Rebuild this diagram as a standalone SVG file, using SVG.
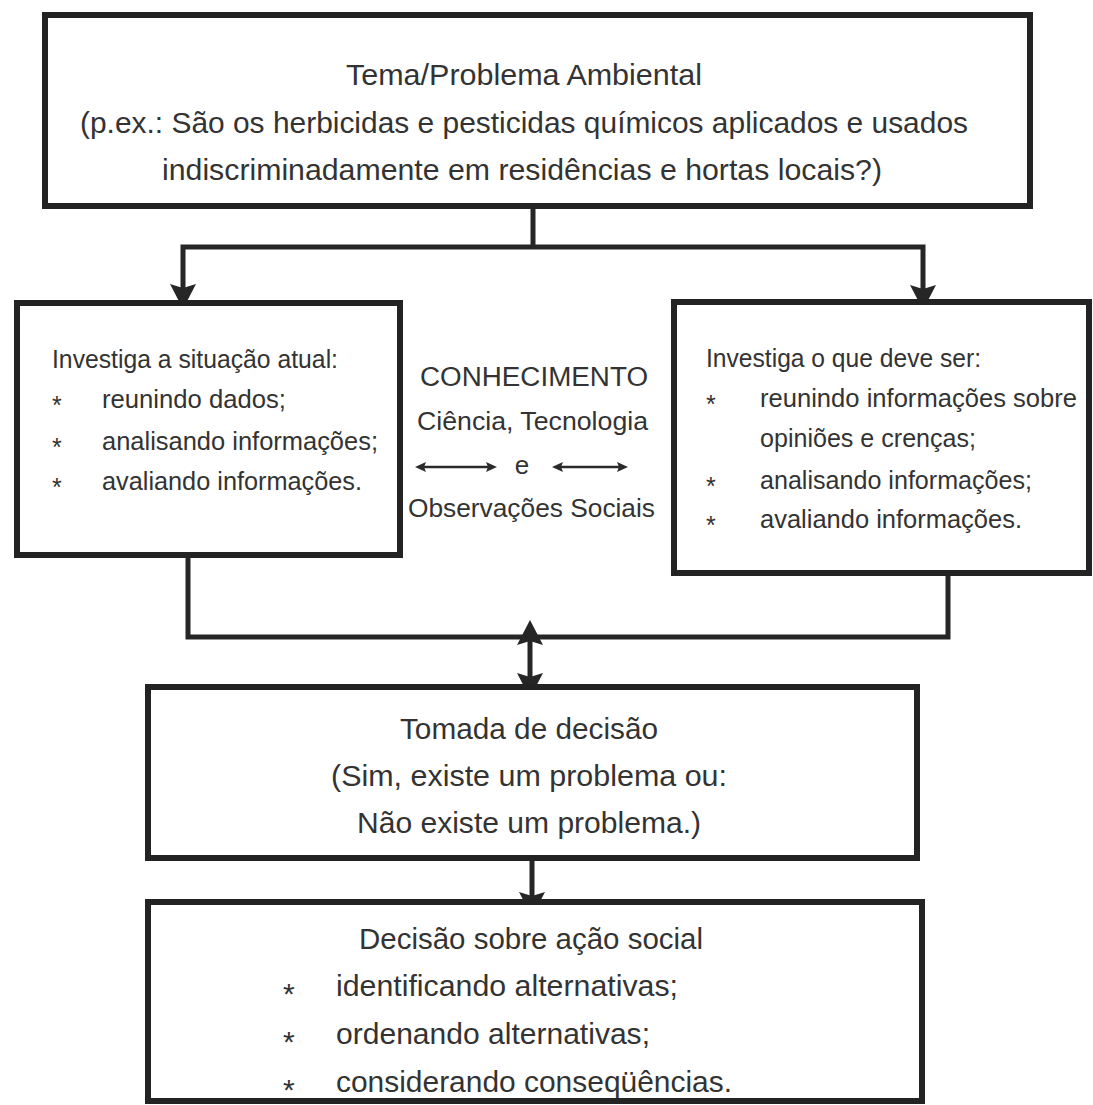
<svg xmlns="http://www.w3.org/2000/svg" width="1093" height="1105" viewBox="0 0 1093 1105">
<style>
.box{fill:#ffffff;stroke:#232323;stroke-width:6}
.con{fill:none;stroke:#262626;stroke-width:5}
.thin{fill:none;stroke:#2a2a2a;stroke-width:2.5}
text{font-family:"Liberation Sans",Arial,sans-serif;fill:#333333}
.t30{font-size:30px}
.t25{font-size:25px}
.t26{font-size:26px}
.t27{font-size:27px}
</style>
<defs>
<marker id="ah" markerUnits="userSpaceOnUse" viewBox="0 0 25 26" markerWidth="25" markerHeight="26" refX="13" refY="13" orient="auto-start-reverse">
<path d="M0,0 L25,13 L0,26 L4,13 z" fill="#262626"/>
</marker>
<marker id="sm" markerUnits="userSpaceOnUse" viewBox="0 0 11 10" markerWidth="11" markerHeight="10" refX="6" refY="5" orient="auto-start-reverse">
<path d="M0,0 L11,5 L0,10 L2,5 z" fill="#2a2a2a"/>
</marker>
</defs>
<rect width="1093" height="1105" fill="#ffffff"/>

<g id="connectors">
<path class="con" d="M533,206 V247"/>
<path class="con" d="M183,297 V247 H923 V298" marker-start="url(#ah)" marker-end="url(#ah)"/>
<path class="con" d="M188,555 V637 H948 V573"/>
<path class="con" d="M530,632 V686" marker-start="url(#ah)" marker-end="url(#ah)"/>
<path class="con" d="M532,858 V905" marker-end="url(#ah)"/>
<path class="thin" d="M420,467 H492" marker-start="url(#sm)" marker-end="url(#sm)"/>
<path class="thin" d="M557,467 H623" marker-start="url(#sm)" marker-end="url(#sm)"/>
</g>

<g id="node-tema">
<rect class="box" x="45" y="15" width="985" height="191"/>
<text class="t30" x="346" y="85" textLength="356" lengthAdjust="spacingAndGlyphs">Tema/Problema Ambiental</text>
<text class="t30" x="80" y="133" textLength="888" lengthAdjust="spacingAndGlyphs">(p.ex.: São os herbicidas e pesticidas químicos aplicados e usados</text>
<text class="t30" x="162" y="180" textLength="720" lengthAdjust="spacingAndGlyphs">indiscriminadamente em residências e hortas locais?)</text>
</g>

<g id="node-situacao">
<rect class="box" x="17" y="303" width="383" height="252"/>
<text class="t25" x="52" y="368" textLength="286" lengthAdjust="spacingAndGlyphs">Investiga a situação atual:</text>
<text class="t25" x="52" y="414">*</text>
<text class="t25" x="102" y="408" textLength="184" lengthAdjust="spacingAndGlyphs">reunindo dados;</text>
<text class="t25" x="52" y="456">*</text>
<text class="t25" x="102" y="450" textLength="276" lengthAdjust="spacingAndGlyphs">analisando informações;</text>
<text class="t25" x="52" y="496">*</text>
<text class="t25" x="102" y="490" textLength="260" lengthAdjust="spacingAndGlyphs">avaliando informações.</text>
</g>

<g id="node-conhecimento">
<text class="t27" x="420" y="386" textLength="228" lengthAdjust="spacingAndGlyphs">CONHECIMENTO</text>
<text class="t26" x="417" y="430" textLength="231" lengthAdjust="spacingAndGlyphs">Ciência, Tecnologia</text>
<text class="t26" x="522" y="474" text-anchor="middle">e</text>
<text class="t26" x="408" y="517" textLength="247" lengthAdjust="spacingAndGlyphs">Observações Sociais</text>
</g>

<g id="node-deve-ser">
<rect class="box" x="674" y="302" width="415" height="271"/>
<text class="t25" x="706" y="367" textLength="275" lengthAdjust="spacingAndGlyphs">Investiga o que deve ser:</text>
<text class="t25" x="706" y="413">*</text>
<text class="t25" x="760" y="407" textLength="317" lengthAdjust="spacingAndGlyphs">reunindo informações sobre</text>
<text class="t25" x="760" y="447" textLength="216" lengthAdjust="spacingAndGlyphs">opiniões e crenças;</text>
<text class="t25" x="706" y="495">*</text>
<text class="t25" x="760" y="489" textLength="272" lengthAdjust="spacingAndGlyphs">analisando informações;</text>
<text class="t25" x="706" y="534">*</text>
<text class="t25" x="760" y="528" textLength="262" lengthAdjust="spacingAndGlyphs">avaliando informações.</text>
</g>

<g id="node-tomada">
<rect class="box" x="148" y="687" width="769" height="171"/>
<text class="t30" x="400" y="739" textLength="258" lengthAdjust="spacingAndGlyphs">Tomada de decisão</text>
<text class="t30" x="331" y="786" textLength="396" lengthAdjust="spacingAndGlyphs">(Sim, existe um problema ou:</text>
<text class="t30" x="357" y="833" textLength="344" lengthAdjust="spacingAndGlyphs">Não existe um problema.)</text>
</g>

<g id="node-acao">
<rect class="box" x="148" y="902" width="774" height="199"/>
<text class="t30" x="359" y="949" textLength="344" lengthAdjust="spacingAndGlyphs">Decisão sobre ação social</text>
<text class="t30" x="283" y="1004">*</text>
<text class="t30" x="336" y="996" textLength="342" lengthAdjust="spacingAndGlyphs">identificando alternativas;</text>
<text class="t30" x="283" y="1052">*</text>
<text class="t30" x="336" y="1044" textLength="314" lengthAdjust="spacingAndGlyphs">ordenando alternativas;</text>
<text class="t30" x="283" y="1100">*</text>
<text class="t30" x="336" y="1092" textLength="396" lengthAdjust="spacingAndGlyphs">considerando conseqüências.</text>
</g>
</svg>
